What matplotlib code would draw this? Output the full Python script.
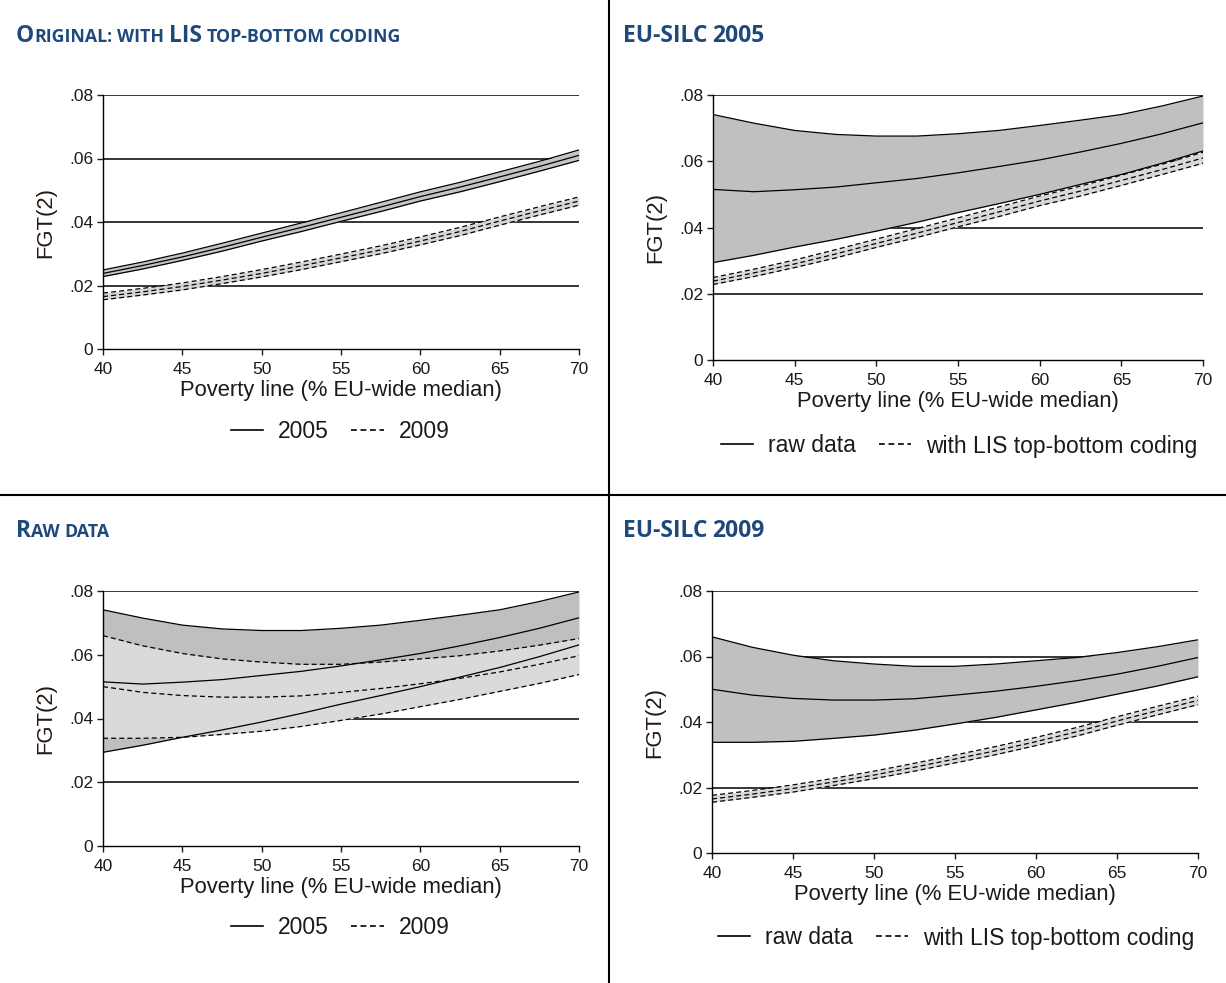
import numpy as np
import matplotlib
matplotlib.use('Agg')
from matplotlib import pyplot as plt
from matplotlib.lines import Line2D

plt.rcParams['font.family'] = ['Liberation Sans', 'DejaVu Sans']

# poverty line, % of EU-wide median
pline = [40, 42.5, 45, 47.5, 50, 52.5, 55, 57.5, 60, 62.5, 65, 67.5, 70]

# FGT(2), 2005, with LIS top-bottom coding (lower bound, estimate, upper bound)
lis05_lo = [0.0228, 0.0252, 0.0279, 0.0308, 0.0340, 0.0370, 0.0402, 0.0433, 0.0466, 0.0495, 0.0527, 0.0560, 0.0594]
lis05_est = [0.0238, 0.0263, 0.0290, 0.0320, 0.0352, 0.0383, 0.0415, 0.0447, 0.0480, 0.0510, 0.0542, 0.0575, 0.0610]
lis05_hi = [0.0249, 0.0274, 0.0302, 0.0333, 0.0365, 0.0397, 0.0429, 0.0462, 0.0495, 0.0525, 0.0558, 0.0591, 0.0627]

# FGT(2), 2009, with LIS top-bottom coding
lis09_lo = [0.0155, 0.0170, 0.0186, 0.0206, 0.0227, 0.0250, 0.0275, 0.0300, 0.0328, 0.0357, 0.0390, 0.0422, 0.0453]
lis09_est = [0.0165, 0.0180, 0.0197, 0.0217, 0.0238, 0.0262, 0.0287, 0.0312, 0.0340, 0.0370, 0.0403, 0.0435, 0.0466]
lis09_hi = [0.0176, 0.0191, 0.0208, 0.0228, 0.0250, 0.0274, 0.0299, 0.0325, 0.0353, 0.0383, 0.0416, 0.0448, 0.0479]

# FGT(2), 2005, raw data
raw05_lo = [0.0294, 0.0316, 0.0341, 0.0364, 0.0389, 0.0416, 0.0445, 0.0472, 0.0500, 0.0530, 0.0560, 0.0594, 0.0631]
raw05_est = [0.0515, 0.0508, 0.0514, 0.0522, 0.0535, 0.0548, 0.0565, 0.0584, 0.0604, 0.0628, 0.0654, 0.0683, 0.0716]
raw05_hi = [0.0741, 0.0715, 0.0693, 0.0681, 0.0676, 0.0676, 0.0683, 0.0693, 0.0708, 0.0724, 0.0741, 0.0767, 0.0797]

# FGT(2), 2009, raw data
raw09_lo = [0.0338, 0.0338, 0.0341, 0.0350, 0.0360, 0.0375, 0.0394, 0.0414, 0.0437, 0.0460, 0.0485, 0.0510, 0.0538]
raw09_est = [0.0500, 0.0482, 0.0472, 0.0467, 0.0467, 0.0471, 0.0482, 0.0494, 0.0509, 0.0526, 0.0546, 0.0570, 0.0597]
raw09_hi = [0.0660, 0.0628, 0.0604, 0.0587, 0.0577, 0.0570, 0.0570, 0.0577, 0.0587, 0.0597, 0.0612, 0.0630, 0.0651]

xticks = [40, 45, 50, 55, 60, 65, 70]
yticks = [0, 0.02, 0.04, 0.06, 0.08]
yticklabels = ['0', '.02', '.04', '.06', '.08']

TITLE_BLUE = '#1f497d'
DASH = (0, (4, 2.5))

W, H = 1226, 983
fig = plt.figure(figsize=(W / 100, H / 100), dpi=100)


def px_axes(left, top, right, bottom):
    return fig.add_axes([left / W, 1 - bottom / H, (right - left) / W, (bottom - top) / H])


def style_axes(ax):
    ax.set_xlim(40, 70)
    ax.set_ylim(0, 0.08)
    for s in ('top', 'right'):
        ax.spines[s].set_visible(False)
    for s in ('left', 'bottom'):
        ax.spines[s].set_linewidth(1.0)
        ax.spines[s].set_zorder(5)
    for yv in yticks[1:]:
        ax.axhline(yv, color='black', lw=1.1, zorder=1)
    ax.set_xticks(xticks)
    ax.set_yticks(yticks)
    ax.set_yticklabels(yticklabels)
    ax.tick_params(direction='out', length=4, width=1.0, labelsize=12.5, pad=3, colors='#1a1a1a')
    ax.tick_params(axis='x', pad=5.5)
    ax.set_xlabel('Poverty line (% EU-wide median)', fontsize=15.8, labelpad=2, color='#1a1a1a')
    ax.set_ylabel('FGT(2)', fontsize=15.8, labelpad=9, color='#241812')


def band(ax, lo, est, hi, fill, dashed=False):
    ls = DASH if dashed else '-'
    ax.fill_between(pline, lo, hi, color=fill, lw=0, zorder=2)
    for ys in (lo, est, hi):
        ax.plot(pline, ys, color='black', lw=0.9, ls=ls, zorder=3)


def legend(x, y, labels):
    handles = [Line2D([], [], color='black', lw=1.2, ls='-'),
               Line2D([], [], color='black', lw=1.2, ls=(0, (3.5, 2.2)))]
    fig.legend(handles, labels, loc='center', bbox_to_anchor=(x / W, 1 - y / H),
               ncol=2, frameon=False, fontsize=16.5, handlelength=1.4,
               handletextpad=0.65, columnspacing=1.0, labelcolor='#1a1a1a')


def small_caps(x, y, s, big=16.5, small=12.8):
    # uppercase letters at full size, lowercase set as smaller capitals
    r = fig.canvas.get_renderer()
    kw = dict(fontfamily=['Open Sans', 'DejaVu Sans'], fontweight='bold',
              color=TITLE_BLUE, va='baseline', ha='left')

    def width(txt, size):
        t = fig.text(0, 0, txt, fontsize=size, **kw)
        w = t.get_window_extent(r).width
        t.remove()
        return w

    def advance(txt, size):
        return width('I' + txt + 'I', size) - width('II', size)

    xp = x
    words = s.split(' ')
    for i, word in enumerate(words):
        runs = []
        for ch in word:
            size = big if ch.isupper() or ch.isdigit() else (small if ch.isalpha() else None)
            if size is None:
                size = runs[-1][1] if runs else big
            if runs and runs[-1][1] == size:
                runs[-1][0] += ch
            else:
                runs.append([ch, size])
        for txt, size in runs:
            fig.text(xp / W, 1 - y / H, txt.upper(), fontsize=size, **kw)
            xp += advance(txt.upper(), size)
        if i < len(words) - 1:
            xp += advance(' ', small)


# original: with LIS top-bottom coding
ax1 = px_axes(103, 95, 579, 349)
style_axes(ax1)
band(ax1, lis05_lo, lis05_est, lis05_hi, '#c4c4c4')
band(ax1, lis09_lo, lis09_est, lis09_hi, '#d6d6d6', dashed=True)
legend(340, 432, ['2005', '2009'])

# EU-SILC 2005
ax2 = px_axes(713, 95, 1203, 360)
style_axes(ax2)
band(ax2, raw05_lo, raw05_est, raw05_hi, '#c0c0c0')
band(ax2, lis05_lo, lis05_est, lis05_hi, '#d9d9d9', dashed=True)
legend(959, 446, ['raw data', 'with LIS top-bottom coding'])

# raw data
ax3 = px_axes(103, 591, 579, 846)
style_axes(ax3)
band(ax3, raw05_lo, raw05_est, raw05_hi, '#bfbfbf')
band(ax3, raw09_lo, raw09_est, raw09_hi, '#dadada', dashed=True)
legend(340, 928, ['2005', '2009'])

# EU-SILC 2009
ax4 = px_axes(712, 591, 1198, 853)
style_axes(ax4)
band(ax4, raw09_lo, raw09_est, raw09_hi, '#c0c0c0')
band(ax4, lis09_lo, lis09_est, lis09_hi, '#d9d9d9', dashed=True)
legend(956, 938, ['raw data', 'with LIS top-bottom coding'])

small_caps(16, 42, 'Original: with LIS top-bottom coding')
small_caps(623, 42, 'EU-SILC 2005')
small_caps(16, 537, 'Raw data')
small_caps(623, 537, 'EU-SILC 2009')

# panel dividers
fig.add_artist(Line2D([609 / W, 609 / W], [0, 1], color='black', lw=1.5, transform=fig.transFigure))
fig.add_artist(Line2D([0, 1], [1 - 495 / H, 1 - 495 / H], color='black', lw=1.5, transform=fig.transFigure))

fig.savefig('out.png', dpi=100)
